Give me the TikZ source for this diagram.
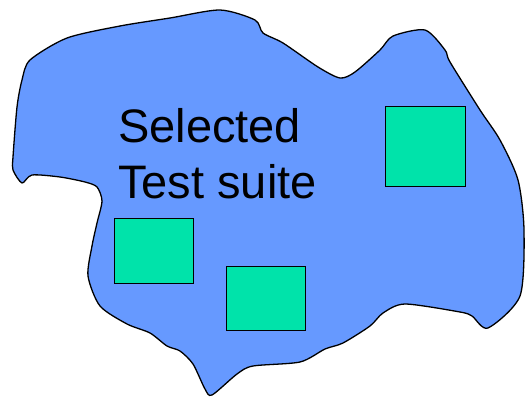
\documentclass[tikz,border=0pt]{standalone}
\usepackage{fontspec}
\setmainfont{Liberation Sans}
\definecolor{blobblue}{RGB}{102,153,255}
\definecolor{boxgreen}{RGB}{0,227,170}
\tikzset{
  blob/.style={fill=blobblue,draw=black,line width=1.3pt,line join=round},
  greenbox/.style={fill=boxgreen,draw=black,line width=1.2pt}
}
\begin{document}
\begin{tikzpicture}[x=1pt,y=-1pt]
\useasboundingbox (0,0) rectangle (527,396);
\draw[blob] plot[smooth cycle,tension=0.45] coordinates {
 (30,60) (67,38) (120,26) (170,18) (220,10) (255,20) (263,33) (283,43) (318,67) (340,78)
 (355,72) (380,50) (393,36) (425,30) (445,50) (450,62) (480,110) (500,140) (518,180)
 (524,230) (520,296) (488,328) (472,316) (460,312) (405,304) (383,313) (370,326)
 (343,343) (325,349) (300,362) (253,366) (237,374) (212,395) (205,389) (193,364)
 (180,351) (167,346) (150,333) (127,324) (100,306) (88,276) (92,246) (97,223)
 (102,201) (97,187) (85,182) (60,177) (32,175) (22,183) (13,170) (13,157) (17,107) (22,80)
};
\node[greenbox,minimum width=80pt,minimum height=80pt,inner sep=0pt,anchor=north west] (b1) at (385,106) {};
\node[greenbox,minimum width=79pt,minimum height=65pt,inner sep=0pt,anchor=north west] (b2) at (114,218) {};
\node[greenbox,minimum width=79pt,minimum height=64pt,inner sep=0pt,anchor=north west] (b3) at (226,266) {};
\node[anchor=base west,align=left,inner sep=0pt,font=\fontsize{47}{56}\selectfont] (lbl) at (118,198) {Selected\\Test suite};
\end{tikzpicture}
\end{document}
